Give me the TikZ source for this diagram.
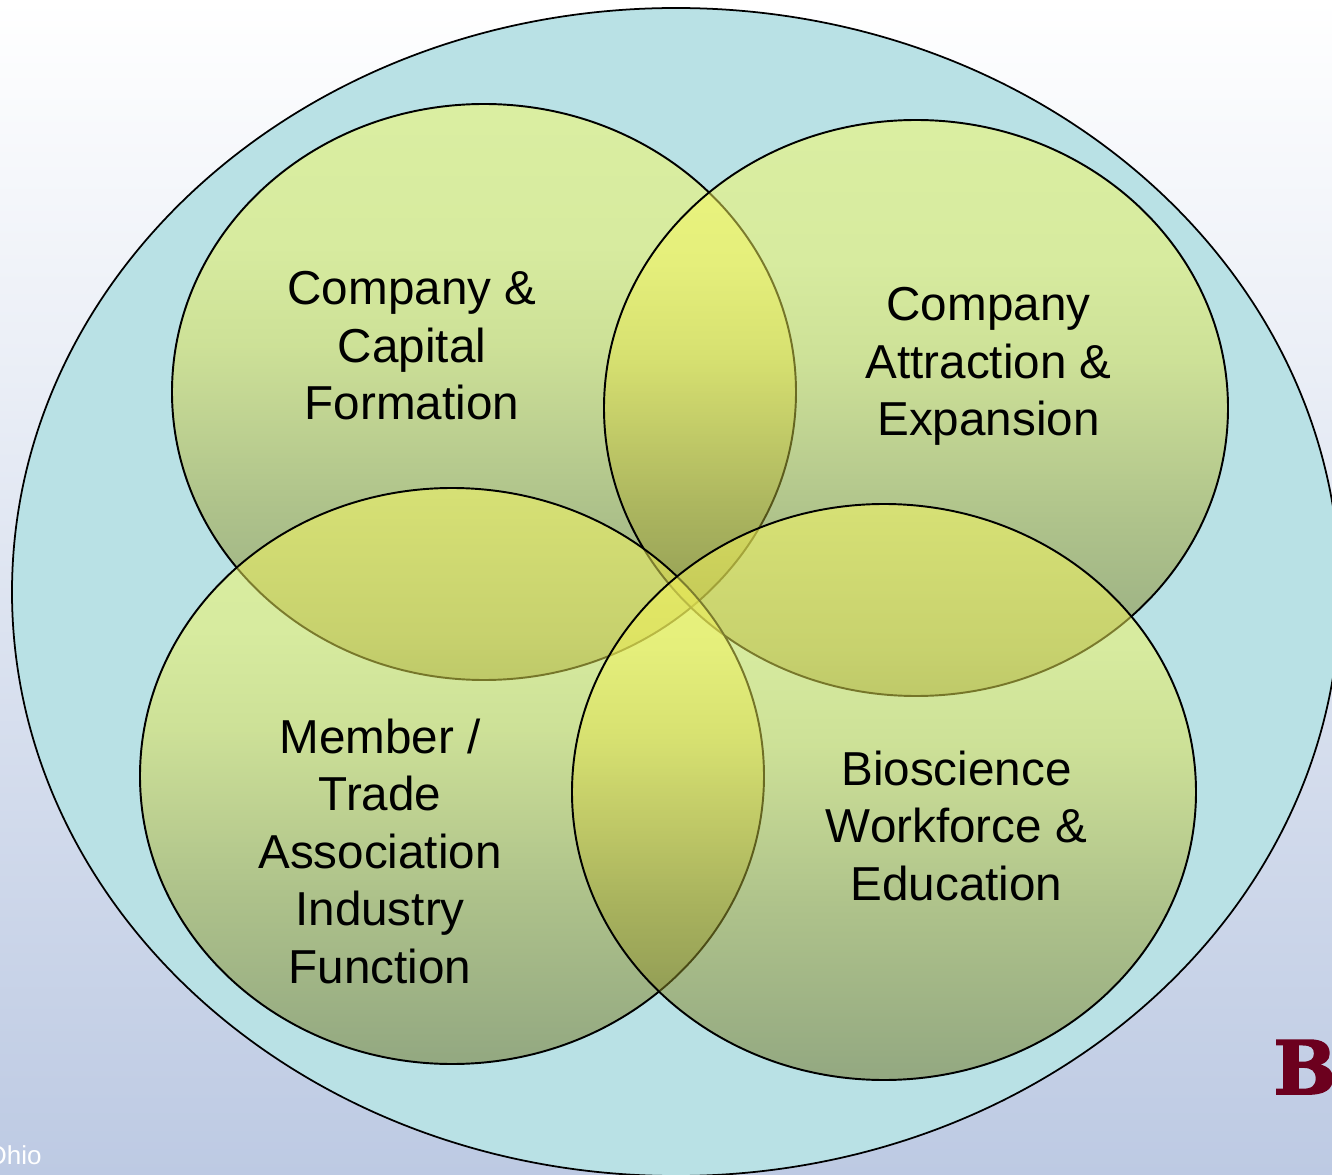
\documentclass[tikz,border=0pt]{standalone}
\usepackage{fontspec}
\setmainfont{Liberation Sans}
\newfontfamily\slabfont[FakeBold=2.5]{DejaVu Serif Bold}
\definecolor{bgtop}{RGB}{255,255,255}
\definecolor{bgbottom}{RGB}{189,202,227}
\definecolor{outerfill}{RGB}{185,225,229}
\definecolor{vennTop}{RGB}{252,252,95}
\definecolor{vennHigh}{RGB}{245,245,90}
\definecolor{vennMid}{RGB}{225,225,75}
\definecolor{vennLow}{RGB}{165,165,50}
\definecolor{vennBottom}{RGB}{110,112,30}
\definecolor{logored}{RGB}{108,0,30}
\pgfdeclareverticalshading{vennshade}{100bp}{color(0bp)=(vennBottom); color(25bp)=(vennBottom); color(40bp)=(vennLow); color(54bp)=(vennMid); color(62.5bp)=(vennHigh); color(75bp)=(vennTop); color(100bp)=(vennTop)}

\begin{document}
\begin{tikzpicture}[scale=0.1]
    \tikzstyle{venn}=[draw=black, line width=0.55pt, shading=vennshade, fill opacity=0.5]
    \tikzstyle{label}=[align=center, font=\fontsize{13.55}{16.36}\selectfont, text=black]
    \useasboundingbox (0,0) rectangle (133.2,-117.5);
    \clip (0,0) rectangle (133.2,-117.5);
    \shade [top color=bgtop, bottom color=bgbottom] (0,0) rectangle (133.2,-117.5);
    \draw [black, line width=0.5pt, fill=outerfill] (67.6,-59.2) ellipse (66.4 and 58.4);
    \draw [venn] (48.4,-39.2) ellipse (31.2 and 28.8);
    \draw [venn] (91.6,-40.8) ellipse (31.2 and 28.8);
    \draw [venn] (45.2,-77.6) ellipse (31.2 and 28.8);
    \draw [venn] (88.4,-79.2) ellipse (31.2 and 28.8);
    \node (capital) [label] at (41.2,-34.6) {Company \&\\Capital\\Formation};
    \node (attraction) [label] at (98.85,-36.65) {Company\\Attraction \&\\Expansion};
    \node (member) [label] at (38,-85.1) {Member /\\Trade\\Association\\Industry\\Function};
    \node (workforce) [label] at (95.65,-82.55) {Bioscience\\Workforce \&\\Education};
    \node (ohio) [anchor=base west, inner sep=0pt, text=white, font=\fontsize{7.4}{9}\selectfont] at (-1.4,-116.4) {Ohio};
    \node (logo) [anchor=base west, inner sep=0pt, text=logored, font=\slabfont\fontsize{21}{23}\selectfont] at (127.3,-109.4) {Ba};
\end{tikzpicture}
\end{document}
